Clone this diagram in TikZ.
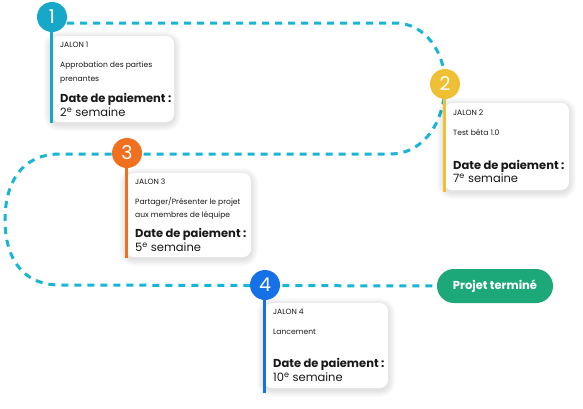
\documentclass[tikz,border=0pt]{standalone}
\usepackage{fontspec}
\setmainfont{Poppins}
\usetikzlibrary{backgrounds}
\definecolor{dashc}{RGB}{24,182,212}
\definecolor{cA}{RGB}{22,168,200}
\definecolor{cB}{RGB}{240,192,52}
\definecolor{cC}{RGB}{240,112,32}
\definecolor{cD}{RGB}{22,112,230}
\definecolor{cG}{RGB}{28,168,120}
\definecolor{txt}{RGB}{25,25,25}
\newcommand\mycard[4]{%
  \foreach \r in {1,...,7}{
    \fill[black,opacity=0.014,rounded corners={8pt+\r pt}] (#1-\r,#2-\r+2) rectangle (#3+\r,#4+\r+2);
  }
  \fill[white,rounded corners=8pt] (#1,#2) rectangle (#3,#4);
}
\begin{document}
\begin{tikzpicture}[x=1pt,y=-1pt,
  stem/.style={line width=3pt},
  num/.style={circle,minimum size=30pt,inner sep=0pt,text=white,font=\fontsize{19}{19}\selectfont},
  small/.style={anchor=west,inner sep=0pt,text=txt,font=\fontsize{7.6}{9}\selectfont},
  big/.style={anchor=west,inner sep=0pt,text=txt,font=\fontsize{11.5}{13}\selectfont\bfseries},
  week/.style={anchor=west,inner sep=0pt,text=txt,font=\fontsize{11.5}{13}\selectfont},
  pill/.style={fill=cG,text=white,rounded corners=17pt,minimum width=116pt,minimum height=34pt,inner sep=0pt,font=\fontsize{11.5}{13}\selectfont\bfseries},
  dline/.style={draw=dashc,line width=3pt,dash pattern=on 7pt off 6pt}]
\useasboundingbox (0,0) rectangle (583,408);
% cards
\mycard{51}{36}{174}{122}
\mycard{444}{103}{569}{190}
\mycard{126}{173}{251}{257}
\mycard{264}{303}{388}{388}
% milestone circles
\node[num,fill=cA] (m1) at (52,17) {1};
\node[num,fill=cB] (m2) at (445,84) {2};
\node[num,fill=cC] (m3) at (127,153) {3};
\node[num,fill=cD] (m4) at (265,285) {4};
\node[pill] (end) at (495,286) {Projet terminé};
% path coordinates
\coordinate (a1) at (395,23);
\coordinate (a2) at (390,154);
\coordinate (a3) at (60,154);
\coordinate (a4) at (5,220);
\coordinate (a5) at (60,285);
\begin{scope}[on background layer]
\fill[white] (0,0) rectangle (583,408);
\draw[dline] (m1.east |- a1) -- (a1) .. controls (425,23) and (445,52) .. (m2.center)
  .. controls (445,120) and (425,154) .. (a2) -- (a3)
  .. controls (20,154) and (5,185) .. (a4) .. controls (5,255) and (20,285) .. (a5) -- (end.west);
\end{scope}
% stems
\coordinate (s1) at (51,123);
\coordinate (s2) at (444,192);
\coordinate (s3) at (126,258);
\coordinate (s4) at (264,393);
\draw[stem,cA] (m1.south -| s1) -- (s1);
\draw[stem,cB] (m2.south -| s2) -- (s2);
\draw[stem,cC] (m3.south -| s3) -- (s3);
\draw[stem,cD] (m4.south -| s4) -- (s4);
% card 1
\node[small] (t1a) at (60,45) {JALON 1};
\node[small] (t1b) at (60,66) {Approbation des parties};
\node[small] (t1c) at (60,80) {prenantes};
\node[big] (t1d) at (60,99) {Date de paiement :};
\node[week] (t1e) at (60,112) {2\textsuperscript{e} semaine};
% card 2
\node[small] (t2a) at (453,113) {JALON 2};
\node[small] (t2b) at (453,133) {Test bêta 1.0};
\node[big] (t2d) at (453,166) {Date de paiement :};
\node[week] (t2e) at (453,178) {7\textsuperscript{e} semaine};
% card 3
\node[small] (t3a) at (135,182) {JALON 3};
\node[small] (t3b) at (135,202) {Partager/Présenter le projet};
\node[small] (t3c) at (135,216) {aux membres de léquipe};
\node[big] (t3d) at (135,234) {Date de paiement :};
\node[week] (t3e) at (135,247) {5\textsuperscript{e} semaine};
% card 4
\node[small] (t4a) at (273,312) {JALON 4};
\node[small] (t4b) at (273,332) {Lancement};
\node[big] (t4d) at (273,364) {Date de paiement :};
\node[week] (t4e) at (273,377) {10\textsuperscript{e} semaine};
\end{tikzpicture}
\end{document}
